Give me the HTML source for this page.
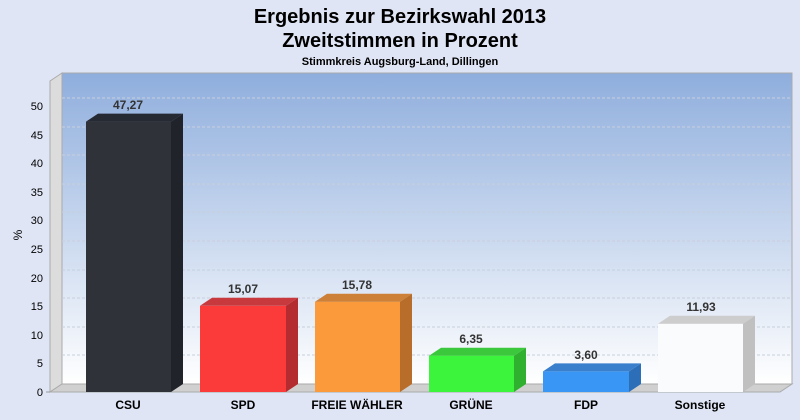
<!DOCTYPE html><html><head><meta charset="utf-8"><style>body{margin:0;background:#dfe5f5}svg{display:block}text{font-family:"Liberation Sans",sans-serif}</style></head><body>
<svg width="800" height="420" viewBox="0 0 800 420">
<defs>
<linearGradient id="bg" x1="0" y1="0" x2="0" y2="1"><stop offset="0" stop-color="#8faedd"/><stop offset="1" stop-color="#ffffff"/></linearGradient>
</defs>
<rect width="800" height="420" fill="#dfe5f5"/>
<text x="400" y="23" text-anchor="middle" font-size="20" font-weight="bold">Ergebnis zur Bezirkswahl 2013</text>
<text x="400" y="47" text-anchor="middle" font-size="20" font-weight="bold">Zweitstimmen in Prozent</text>
<text x="400" y="65" text-anchor="middle" font-size="11" font-weight="bold">Stimmkreis Augsburg-Land, Dillingen</text>
<rect x="62" y="73" width="730" height="311" fill="url(#bg)" stroke="#aaa"/>
<polygon points="50,81 62,73 62,384 50,392" fill="#dcdcdc" stroke="#aaa"/>
<polygon points="50,392 62,384 792,384 780,392" fill="#d0d0d0" stroke="#aaa"/>
<g stroke="#c8cfdc" stroke-dasharray="3,2">
<line x1="62" y1="355" x2="792" y2="355"/><line x1="62" y1="327" x2="792" y2="327"/><line x1="62" y1="298" x2="792" y2="298"/><line x1="62" y1="270" x2="792" y2="270"/><line x1="62" y1="241" x2="792" y2="241"/><line x1="62" y1="212" x2="792" y2="212"/><line x1="62" y1="184" x2="792" y2="184"/><line x1="62" y1="155" x2="792" y2="155"/><line x1="62" y1="127" x2="792" y2="127"/><line x1="62" y1="98" x2="792" y2="98"/>
</g>
<g font-size="11" text-anchor="end" fill="#000">
<text x="43" y="396">0</text><text x="43" y="367">5</text><text x="43" y="339">10</text><text x="43" y="310">15</text><text x="43" y="282">20</text><text x="43" y="253">25</text><text x="43" y="224">30</text><text x="43" y="196">35</text><text x="43" y="167">40</text><text x="43" y="139">45</text><text x="43" y="110">50</text>
</g>
<g stroke="#999"><line x1="46" y1="392" x2="50" y2="392"/></g>
<text x="22" y="235" font-size="12" transform="rotate(-90 22 235)" text-anchor="middle">%</text>
<g font-size="12" font-weight="bold" fill="#333" text-anchor="middle">
<rect x="86" y="121.6" width="85" height="270.4" fill="#2f3238"/>
<polygon points="86,121.6 98,113.6 183,113.6 171,121.6" fill="#262a33"/>
<polygon points="171,121.6 183,113.6 183,384 171,392" fill="#20232a"/>
<text x="128" y="109">47,27</text>
<rect x="200" y="305.8" width="86" height="86.2" fill="#fb3a3a"/>
<polygon points="200,305.8 212,297.8 298,297.8 286,305.8" fill="#c8393e"/>
<polygon points="286,305.8 298,297.8 298,384 286,392" fill="#b52c30"/>
<text x="243" y="293">15,07</text>
<rect x="315" y="301.7" width="85" height="90.3" fill="#fb9a3a"/>
<polygon points="315,301.7 327,293.7 412,293.7 400,301.7" fill="#cc8038"/>
<polygon points="400,301.7 412,293.7 412,384 400,392" fill="#b86e2a"/>
<text x="357" y="289">15,78</text>
<rect x="429" y="355.7" width="85" height="36.3" fill="#3cf43c"/>
<polygon points="429,355.7 441,347.7 526,347.7 514,355.7" fill="#3cc83c"/>
<polygon points="514,355.7 526,347.7 526,384 514,392" fill="#2fb02f"/>
<text x="471" y="343">6,35</text>
<rect x="543" y="371.4" width="86" height="20.6" fill="#3a96f4"/>
<polygon points="543,371.4 555,363.4 641,363.4 629,371.4" fill="#3a7fcc"/>
<polygon points="629,371.4 641,363.4 641,384 629,392" fill="#2d6eb8"/>
<text x="586" y="359">3,60</text>
<rect x="658" y="323.8" width="85" height="68.2" fill="#fafbfd"/>
<polygon points="658,323.8 670,315.8 755,315.8 743,323.8" fill="#cdcdcd"/>
<polygon points="743,323.8 755,315.8 755,384 743,392" fill="#c0c0c0"/>
<text x="701" y="311">11,93</text>
</g>
<g font-size="12" font-weight="bold" fill="#000" text-anchor="middle">
<text x="128" y="409">CSU</text><text x="243" y="409">SPD</text><text x="357" y="409">FREIE WÄHLER</text><text x="471" y="409">GRÜNE</text><text x="586" y="409">FDP</text><text x="700" y="409">Sonstige</text>
</g>
</svg></body></html>
